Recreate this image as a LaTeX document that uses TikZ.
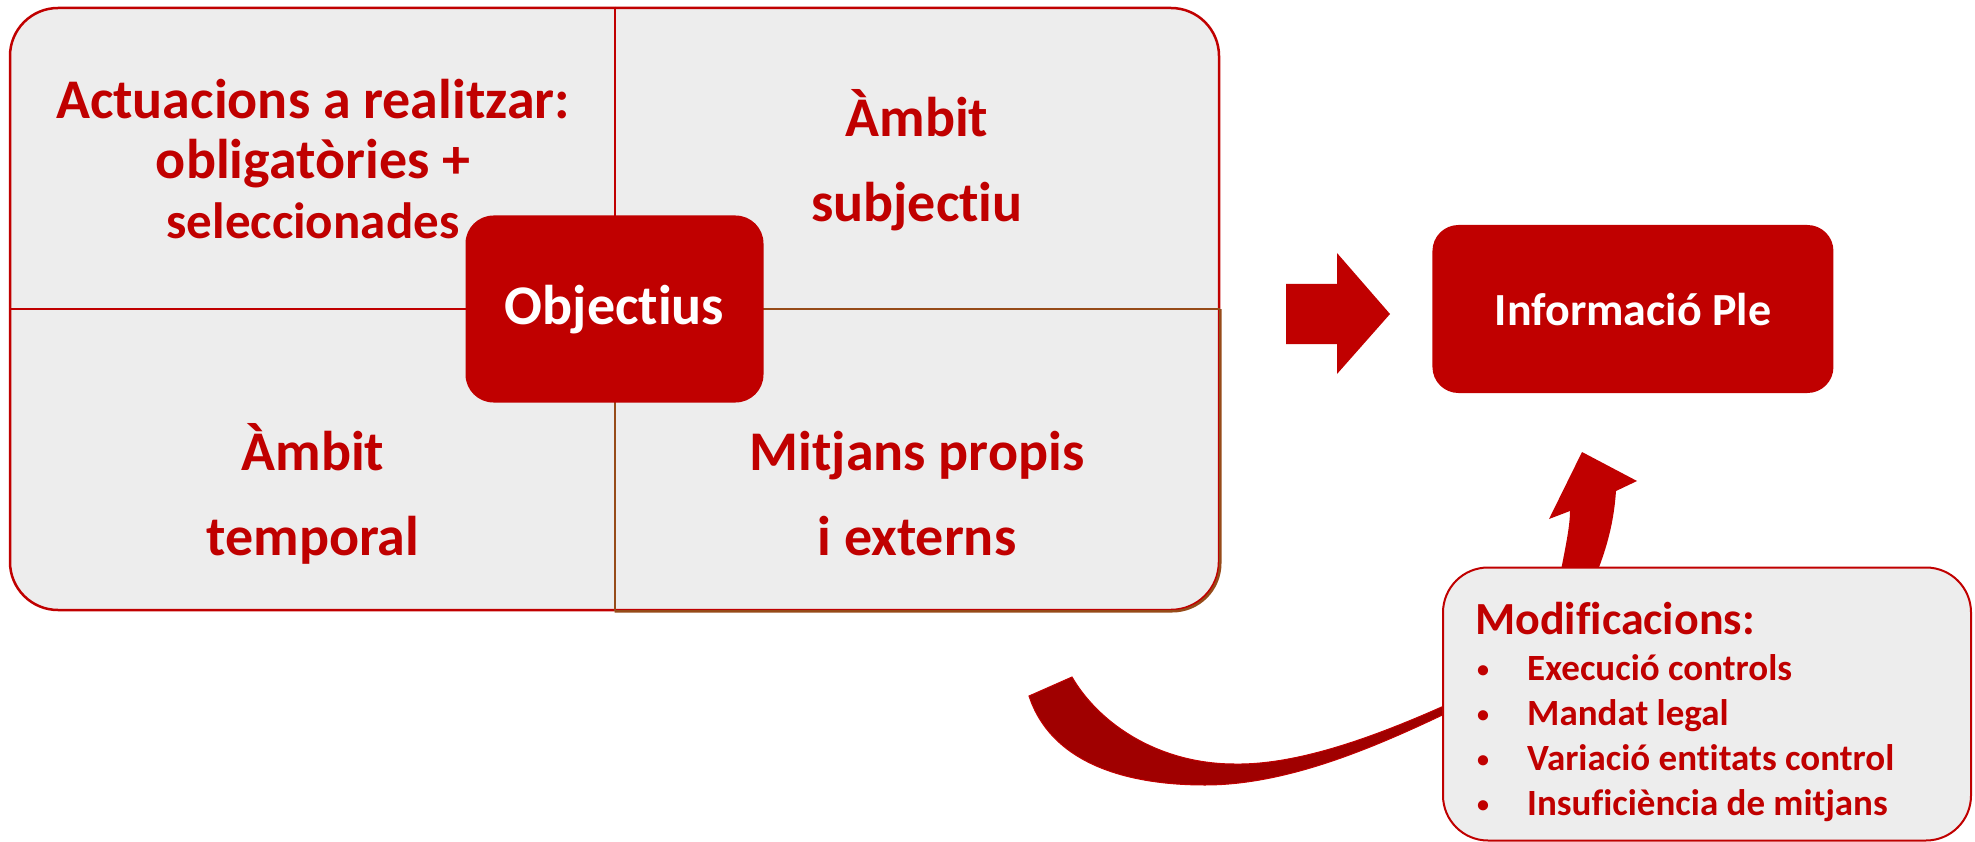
\documentclass[tikz,border=0pt]{standalone}
\usepackage{fontspec}
\setmainfont{Carlito}[Ligatures=CommonOff]
\usetikzlibrary{positioning}
\definecolor{plered}{RGB}{192,0,0}
\definecolor{pledark}{RGB}{160,0,0}
\definecolor{plegrey}{RGB}{237,237,237}
\definecolor{plebrown}{RGB}{150,75,25}
\newcommand{\plebullet}{{\fontsize{24}{24}\selectfont\raisebox{3pt}{•}}}

\begin{document}
\begin{tikzpicture}[x=1pt,y=-1pt,
    frame/.style={draw=plered, fill=plegrey, line width=2.5pt, rounded corners=48pt, inner sep=0pt},
    quad/.style={text=plered, align=center, anchor=base, inner sep=0pt,
      font=\fontsize{56}{85}\selectfont\bfseries},
    redbox/.style={fill=plered, text=white, inner sep=0pt},
    modbox/.style={draw=plered, fill=plegrey, line width=2pt, rounded corners=45pt, inner sep=0pt},
    modtext/.style={text=plered, anchor=base west, inner sep=0pt}]
  \useasboundingbox (0,0) rectangle (1975,842);

  % the four quadrants
  \node[frame, minimum width=1209pt, minimum height=602pt] (frame) at (614.5,309) {};
  \begin{scope}
    \clip (frame.center) rectangle ([shift={(6,6)}]frame.south east);
    \draw[plebrown, line width=2.5pt, rounded corners=48pt] (frame.north west) rectangle (frame.south east);
  \end{scope}
  \draw[plered, line width=2pt] (frame.north) -- (frame.center) -- (frame.west);
  \draw[plebrown, line width=2pt] (frame.south) -- (frame.center) -- (frame.east);

  % base = last line
  \node[quad, font=\fontsize{56}{60}\selectfont\bfseries] (actua) at (313,239)
    {Actuacions a realitzar:\\obligatòries +\\{\fontsize{51}{58}\selectfont seleccionades}};
  \node[quad] (subj) at (917,222) {Àmbit\\subjectiu};
  \node[quad] (temp) at (313,555) {Àmbit\\temporal};
  \node[quad] (mitj) at (917,555) {Mitjans propis\\i externs};

  \node[redbox, rounded corners=28pt, minimum width=298pt, minimum height=187pt,
    text height=40pt, text depth=9pt, font=\fontsize{56}{60}\selectfont\bfseries] (obj) at (frame.center) {Objectius};

  % arrow to the plenary
  \fill[plered] (1286,284) -- (1337,284) -- (1337,253) -- (1390,314) -- (1337,374) -- (1337,344) -- (1286,344) -- cycle;
  \node[redbox, rounded corners=26pt, minimum width=401pt, minimum height=168pt,
    text height=36pt, text depth=4pt, font=\fontsize{46}{55}\selectfont\bfseries, right=212pt of frame] (ple) {Informació Ple};

  % curved arrows
  \fill[plered] (1560,575) .. controls (1566,545) and (1570,525) .. (1570,511) -- (1549,519) -- (1582,452)
    -- (1637,481) -- (1616,491) .. controls (1614,520) and (1608,545) .. (1596,575) -- cycle;
  \filldraw[fill=pledark, draw=plered, line width=1pt] (1029,696) .. controls (1050,760) and (1120,785) .. (1205,785)
    .. controls (1290,785) and (1380,745) .. (1455,709) -- (1455,701)
    .. controls (1380,735) and (1300,765) .. (1235,764) .. controls (1160,764) and (1100,725) .. (1072,677) -- cycle;

  \node[modbox, minimum width=528pt, minimum height=273pt] (mods) at (1707,704) {};
  \node[modtext, font=\fontsize{46}{55}\selectfont\bfseries] (modtitle) at (1475,634) {Modificacions:};
  \node[modtext, font=\fontsize{37}{45}\selectfont\bfseries] (modlist) at (1477,680)
    {\begin{tabular}[t]{@{}p{50pt}@{}l@{}}
      \plebullet & Execució controls\\
      \plebullet & Mandat legal\\
      \plebullet & Variació entitats control\\
      \plebullet & Insuficiència de mitjans
    \end{tabular}};
\end{tikzpicture}
\end{document}
